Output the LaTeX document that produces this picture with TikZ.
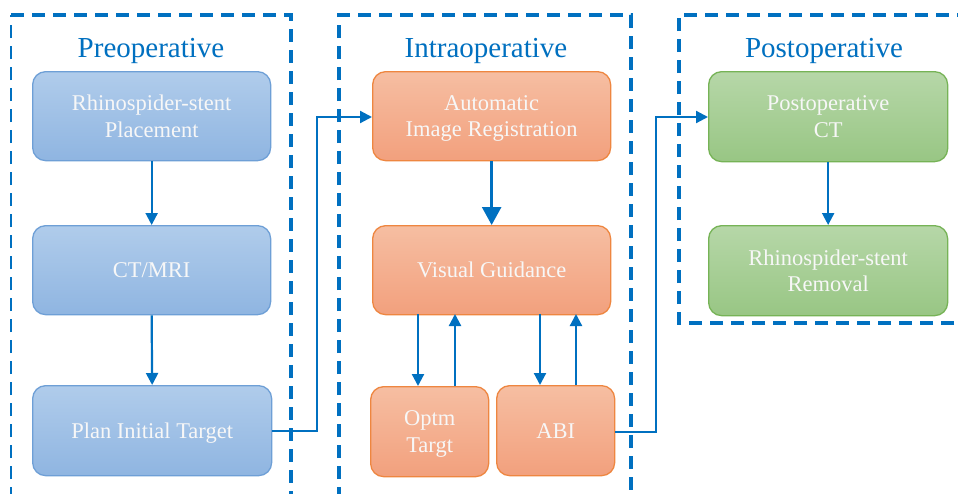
\documentclass[tikz,border=0pt]{standalone}
\usepackage{fontspec}
\setmainfont{Liberation Serif}
\usetikzlibrary{arrows.meta}
\definecolor{dashblue}{HTML}{0070C0}
\definecolor{bluetop}{HTML}{B0CCEB}
\definecolor{bluebot}{HTML}{8FB5E1}
\definecolor{blueline}{HTML}{6E9FD6}
\definecolor{ortop}{HTML}{F6BEA2}
\definecolor{orbot}{HTML}{F2A07D}
\definecolor{orline}{HTML}{EE8640}
\definecolor{grtop}{HTML}{B6D7A8}
\definecolor{grbot}{HTML}{98C684}
\definecolor{grline}{HTML}{76B356}
\definecolor{txt}{HTML}{F7F7F7}
\tikzset{
  phase/.style={draw=dashblue, line width=3.2pt, dash pattern=on 13pt off 8pt},
  thinphase/.style={phase, line width=1.8pt},
  phasetitle/.style={text=dashblue, font=\fontsize{29}{32}\selectfont, anchor=base},
  boxbase/.style={rounded corners=13pt, line width=1.3pt, text=txt, align=center,
    font=\fontsize{22.5}{26.5}\selectfont, anchor=north west, inner xsep=0pt,
    inner ysep=0pt, text depth=0pt},
  bluebox/.style={boxbase, draw=blueline, top color=bluetop, bottom color=bluebot},
  orbox/.style={boxbase, draw=orline, top color=ortop, bottom color=orbot},
  grbox/.style={boxbase, draw=grline, top color=grtop, bottom color=grbot},
  conn/.style={draw=dashblue, line width=2.2pt, -{Triangle[length=12pt,width=12pt]}},
  bigconn/.style={draw=dashblue, line width=2.6pt, -{Triangle[length=18pt,width=19pt]}},
}
\begin{document}
\begin{tikzpicture}[x=1pt,y=-1pt]
\useasboundingbox (0,0) rectangle (958,493);
\clip (0,0) rectangle (958,493);
\fill[white] (0,0) rectangle (958,493);
% phase frames
\draw[thinphase] (11,500) -- (11,15);
\draw[phase] (11,15) -- (291,15) -- (291,500);
\draw[phase] (339,500) -- (339,15) -- (631,15) -- (631,500);
\draw[phase] (975,323) -- (679,323) -- (679,15) -- (975,15);
\node[phasetitle] (t1) at (151,57) {Preoperative};
\node[phasetitle] (t2) at (486,57) {Intraoperative};
\node[phasetitle] (t3) at (824,57) {Postoperative};
% blue
\node[bluebox, minimum width=238pt, minimum height=89pt] (a1) at (32,71) {Rhinospider-stent\\Placement};
\node[bluebox, minimum width=238pt, minimum height=89pt] (a2) at (32,225) {CT/MRI};
\node[bluebox, minimum width=239pt, minimum height=90pt] (a3) at (32,385) {Plan Initial Target};
% orange
\node[orbox, minimum width=238pt, minimum height=89pt] (b1) at (372,71) {Automatic\\Image Registration};
\node[orbox, minimum width=238pt, minimum height=89pt] (b2) at (372,225) {Visual Guidance};
\node[orbox, minimum width=118pt, minimum height=90pt] (b3) at (370,386) {Optm\\Targt};
\node[orbox, minimum width=118pt, minimum height=90pt] (b4) at (496,385) {ABI};
% green
\node[grbox, minimum width=239pt, minimum height=90pt] (c1) at (708,71) {Postoperative\\CT};
\node[grbox, minimum width=239pt, minimum height=90pt] (c2) at (708,225) {Rhinospider-stent\\Removal};
% connectors
\draw[conn] (a1.south) -- (a2.north);
\draw[conn] (a2.south) -- (a3.north);
\draw[bigconn] (b1.south) -- (b2.north);
\draw[conn] (c1.south) -- (c2.north);
\coordinate (k1) at (317,431);
\coordinate (k2) at (317,117);
\draw[conn] (a3.east |- k1) -- (k1) -- (k2) -- (b1.west |- k2);
\coordinate (m1) at (656,432);
\coordinate (m2) at (656,117);
\draw[conn] (b4.east |- m1) -- (m1) -- (m2) -- (c1.west |- m2);
% loops
\draw[conn] (418,314) -- (b3.north -| 418,0);
\draw[conn] (b3.north -| 455,0) -- (455,314);
\draw[conn] (540,314) -- (b4.north -| 540,0);
\draw[conn] (b4.north -| 576,0) -- (576,314);
\end{tikzpicture}
\end{document}
